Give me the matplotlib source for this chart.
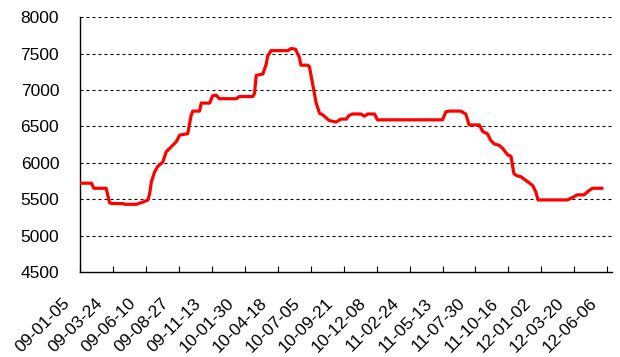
import numpy as np
import pandas as pd
import matplotlib
matplotlib.use("Agg")
from matplotlib import pyplot as plt
from matplotlib.transforms import ScaledTranslation

plt.rcParams['font.family'] = ['Liberation Sans', 'DejaVu Sans']

# price series
dates = ['2009-01-05', '2009-02-01', '2009-02-07', '2009-03-08', '2009-03-16',
         '2009-03-24', '2009-04-17', '2009-04-21', '2009-05-18', '2009-06-03',
         '2009-06-15', '2009-06-19', '2009-06-23', '2009-07-01', '2009-07-08',
         '2009-07-20', '2009-07-28', '2009-08-09', '2009-08-21', '2009-08-29',
         '2009-09-17', '2009-09-25', '2009-09-29', '2009-10-15', '2009-10-19',
         '2009-11-08', '2009-11-15', '2009-11-23', '2009-12-01', '2010-01-10',
         '2010-01-17', '2010-02-18', '2010-02-22', '2010-02-26', '2010-03-14',
         '2010-03-22', '2010-03-25', '2010-04-02', '2010-05-12', '2010-05-20',
         '2010-05-30', '2010-06-08', '2010-06-12', '2010-06-28', '2010-07-02',
         '2010-07-10', '2010-07-18', '2010-07-26', '2010-08-02', '2010-08-18',
         '2010-09-03', '2010-09-15', '2010-09-27', '2010-10-04', '2010-10-12',
         '2010-11-01', '2010-11-09', '2010-11-17', '2010-12-03', '2010-12-10',
         '2011-05-13', '2011-05-21', '2011-05-29', '2011-06-25', '2011-07-07',
         '2011-07-15', '2011-08-08', '2011-08-16', '2011-08-27', '2011-09-04',
         '2011-09-12', '2011-09-24', '2011-10-02', '2011-10-14', '2011-10-22',
         '2011-10-29', '2011-11-06', '2011-11-14', '2011-11-26', '2011-12-12',
         '2011-12-20', '2011-12-25', '2012-03-03', '2012-03-15', '2012-03-27',
         '2012-04-12', '2012-04-24', '2012-05-02', '2012-05-24']
prices = [5720, 5720, 5650, 5650, 5450,
          5440, 5440, 5430, 5430, 5460,
          5490, 5580, 5740, 5880, 5950,
          6010, 6150, 6220, 6290, 6380,
          6400, 6650, 6710, 6710, 6820,
          6820, 6920, 6930, 6880, 6880,
          6910, 6910, 6950, 7200, 7220,
          7360, 7460, 7540, 7540, 7570,
          7560, 7450, 7340, 7340, 7320,
          7070, 6820, 6680, 6660, 6580,
          6560, 6600, 6600, 6650, 6670,
          6670, 6640, 6670, 6670, 6590,
          6590, 6700, 6710, 6710, 6670,
          6520, 6520, 6430, 6400, 6310,
          6260, 6240, 6200, 6110, 6090,
          5850, 5820, 5810, 5760, 5690,
          5600, 5490, 5490, 5520, 5560,
          5560, 5620, 5650, 5650]

tick_dates = ['2009-01-05', '2009-03-24', '2009-06-10', '2009-08-27', '2009-11-13',
              '2010-01-30', '2010-04-18', '2010-07-05', '2010-09-21', '2010-12-08',
              '2011-02-24', '2011-05-13', '2011-07-30', '2011-10-16', '2012-01-02',
              '2012-03-20', '2012-06-06']
tick_labels = ['09-01-05', '09-03-24', '09-06-10', '09-08-27', '09-11-13',
               '10-01-30', '10-04-18', '10-07-05', '10-09-21', '10-12-08',
               '11-02-24', '11-05-13', '11-07-30', '11-10-16', '12-01-02',
               '12-03-20', '12-06-06']
y_ticks = [4500, 5000, 5500, 6000, 6500, 7000, 7500, 8000]

x = pd.to_datetime(dates)
xt = pd.to_datetime(tick_dates)

fig = plt.figure(figsize=(6.2, 3.57), dpi=100)
ax = fig.add_axes([0.129, 0.238, 0.858, 0.714])

for v in y_ticks[1:]:
    ax.axhline(v, color='black', lw=0.8, dashes=(2.7, 2.7), zorder=1)

ax.plot(x, prices, color='#ff0000', lw=2.3, zorder=3)

ax.set_ylim(4500, 8000)
ax.set_xlim(xt[0], xt[-1] + pd.Timedelta(days=11))
ax.set_yticks(y_ticks)
ax.set_xticks(xt)
ax.set_xticklabels(tick_labels, rotation=45, ha='right', va='center',
                   rotation_mode='anchor')

for s in ['top', 'right']:
    ax.spines[s].set_visible(False)
for s in ['left', 'bottom']:
    ax.spines[s].set_linewidth(1.0)

ax.tick_params(axis='y', length=0, pad=15, labelsize=12.5)
ax.tick_params(axis='x', direction='in', length=4, width=0.8, pad=0, labelsize=12.5)

off = ScaledTranslation(-0.13, -0.29, fig.dpi_scale_trans)
for lab in ax.get_xticklabels():
    lab.set_transform(lab.get_transform() + off)

fig.savefig('out.png', dpi=100)
